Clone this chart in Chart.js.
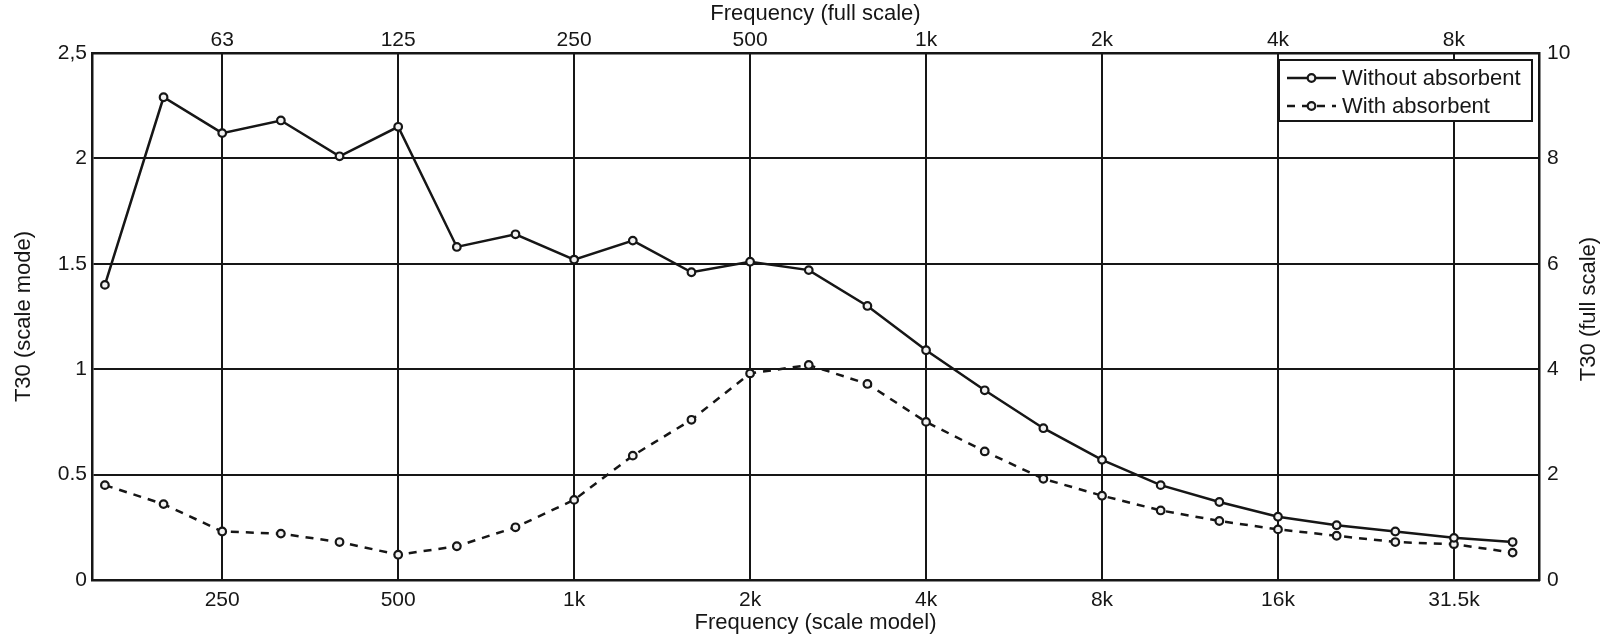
<!DOCTYPE html>
<html>
<head>
<meta charset="utf-8">
<script src="https://cdn.jsdelivr.net/npm/chart.js@4/dist/chart.umd.min.js"></script>
<style>
  html, body { margin: 0; padding: 0; background: #fff; }
  #wrap { width: 1604px; height: 639px; }
</style>
</head>
<body>
<div id="wrap"><canvas id="c" width="1604" height="639"></canvas></div>
<script>
// Third-octave bands (scale model frequency)
const bands = ['160','200','250','315','400','500','630','800','1k','1.25k','1.6k','2k','2.5k','3.15k','4k','5k','6.3k','8k','10k','12.5k','16k','20k','25k','31.5k','40k'];
// T30 values (scale model, seconds)
const withoutAbsorbent = [1.40,2.29,2.12,2.18,2.01,2.15,1.58,1.64,1.52,1.61,1.46,1.51,1.47,1.30,1.09,0.90,0.72,0.57,0.45,0.37,0.30,0.26,0.23,0.20,0.18];
const withAbsorbent    = [0.45,0.36,0.23,0.22,0.18,0.12,0.16,0.25,0.38,0.59,0.76,0.98,1.02,0.93,0.75,0.61,0.48,0.40,0.33,0.28,0.24,0.21,0.18,0.17,0.13];
// Tick labels
const bottomTickLabels = ['250','500','1k','2k','4k','8k','16k','31.5k'];
const topTickLabels    = ['63','125','250','500','1k','2k','4k','8k'];
const leftTickLabels   = ['0','0.5','1','1.5','2','2,5'];
const rightTickLabels  = ['0','2','4','6','8','10'];

const tickPositions = bottomTickLabels.map(l => bands.indexOf(l));
const INK = '#161616';
const FONT = "'Liberation Sans', Arial, sans-serif";

const toPoints = arr => arr.map((v, i) => ({ x: i, y: v }));

const extras = {
  id: 'extras',
  afterDraw(chart) {
    const ctx = chart.ctx;
    ctx.save();
    // Right axis title, reading bottom-to-top
    ctx.fillStyle = INK;
    ctx.font = "22px " + FONT;
    ctx.textAlign = 'center';
    ctx.textBaseline = 'middle';
    ctx.translate(1589, 309);
    ctx.rotate(-Math.PI / 2);
    ctx.fillText('T30 (full scale)', 0, 0);
    ctx.restore();

    // Legend box
    ctx.save();
    const bx = 1279, by = 60, bw = 253, bh = 61;
    ctx.fillStyle = '#fff';
    ctx.fillRect(bx, by, bw, bh);
    ctx.lineWidth = 2;
    ctx.strokeStyle = INK;
    ctx.strokeRect(bx, by, bw, bh);
    const rows = [78, 106];
    chart.data.datasets.forEach((ds, k) => {
      const y = rows[k];
      ctx.beginPath();
      ctx.setLineDash(ds.borderDash || []);
      ctx.lineWidth = ds.borderWidth;
      ctx.strokeStyle = ds.borderColor;
      ctx.moveTo(1287, y);
      ctx.lineTo(1336, y);
      ctx.stroke();
      ctx.setLineDash([]);
      ctx.beginPath();
      ctx.arc(1311.5, y, ds.pointRadius, 0, Math.PI * 2);
      ctx.fillStyle = ds.pointBackgroundColor;
      ctx.fill();
      ctx.lineWidth = ds.pointBorderWidth;
      ctx.strokeStyle = ds.pointBorderColor;
      ctx.stroke();
      ctx.fillStyle = INK;
      ctx.font = "22px " + FONT;
      ctx.textAlign = 'left';
      ctx.textBaseline = 'middle';
      ctx.fillText(ds.label, 1342, y + 1);
    });
    ctx.restore();
  }
};

new Chart(document.getElementById('c'), {
  type: 'line',
  data: {
    datasets: [
      {
        label: 'Without absorbent',
        data: toPoints(withoutAbsorbent),
        borderColor: INK, borderWidth: 2.5,
        pointRadius: 3.8, pointBorderWidth: 2.2,
        pointBackgroundColor: '#f2f2f2', pointBorderColor: INK,
        tension: 0, xAxisID: 'x', yAxisID: 'y'
      },
      {
        label: 'With absorbent',
        data: toPoints(withAbsorbent),
        borderColor: INK, borderWidth: 2.5, borderDash: [8, 7],
        pointRadius: 3.8, pointBorderWidth: 2.2,
        pointBackgroundColor: '#f2f2f2', pointBorderColor: INK,
        tension: 0, xAxisID: 'x', yAxisID: 'y'
      }
    ]
  },
  options: {
    responsive: false,
    animation: false,
    devicePixelRatio: 1,
    layout: { padding: 0 },
    plugins: { legend: { display: false }, tooltip: { enabled: false } },
    scales: {
      x: {
        type: 'linear', position: 'bottom',
        min: -0.22, max: 24.45,
        afterBuildTicks: s => { s.ticks = tickPositions.map(v => ({ value: v })); },
        afterFit: s => { s.height = 59; },
        ticks: {
          autoSkip: false, maxRotation: 0, padding: 8, color: INK,
          font: { family: FONT, size: 21 },
          callback: (v, i) => bottomTickLabels[i]
        },
        grid: { color: INK, lineWidth: 2, drawTicks: false },
        border: { display: true, color: INK, width: 2.5 },
        title: { display: true, text: 'Frequency (scale model)', color: INK,
                 font: { family: FONT, size: 22 }, padding: { top: 0, bottom: 3 } }
      },
      x2: {
        type: 'linear', position: 'top',
        min: -0.22, max: 24.45,
        afterBuildTicks: s => { s.ticks = tickPositions.map(v => ({ value: v })); },
        afterFit: s => { s.height = 53; },
        ticks: {
          autoSkip: false, maxRotation: 0, padding: 0, color: INK,
          font: { family: FONT, size: 21 },
          callback: (v, i) => topTickLabels[i]
        },
        grid: { display: false, drawTicks: false },
        border: { display: true, color: INK, width: 2.5 },
        title: { display: true, text: 'Frequency (full scale)', color: INK,
                 font: { family: FONT, size: 22 }, padding: { top: 1, bottom: 0 } }
      },
      y: {
        type: 'linear', position: 'left',
        min: 0, max: 2.5,
        afterBuildTicks: s => { s.ticks = leftTickLabels.map((l, i) => ({ value: i * 0.5 })); },
        afterFit: s => { s.width = 92; },
        ticks: {
          padding: 5, color: INK,
          font: { family: FONT, size: 21 },
          callback: (v, i) => leftTickLabels[i]
        },
        grid: { color: INK, lineWidth: 2, drawTicks: false },
        border: { display: true, color: INK, width: 2.5 },
        title: { display: true, text: 'T30 (scale mode)', color: INK,
                 font: { family: FONT, size: 22 }, padding: { top: 11, bottom: 0 } }
      },
      y2: {
        type: 'linear', position: 'right',
        min: 0, max: 10,
        afterBuildTicks: s => { s.ticks = rightTickLabels.map((l, i) => ({ value: i * 2 })); },
        afterFit: s => { s.width = 65; },
        ticks: {
          padding: 8, color: INK,
          font: { family: FONT, size: 21 },
          callback: (v, i) => rightTickLabels[i]
        },
        grid: { display: false, drawTicks: false },
        border: { display: true, color: INK, width: 2.5 }
      }
    }
  },
  plugins: [extras]
});
</script>
</body>
</html>
